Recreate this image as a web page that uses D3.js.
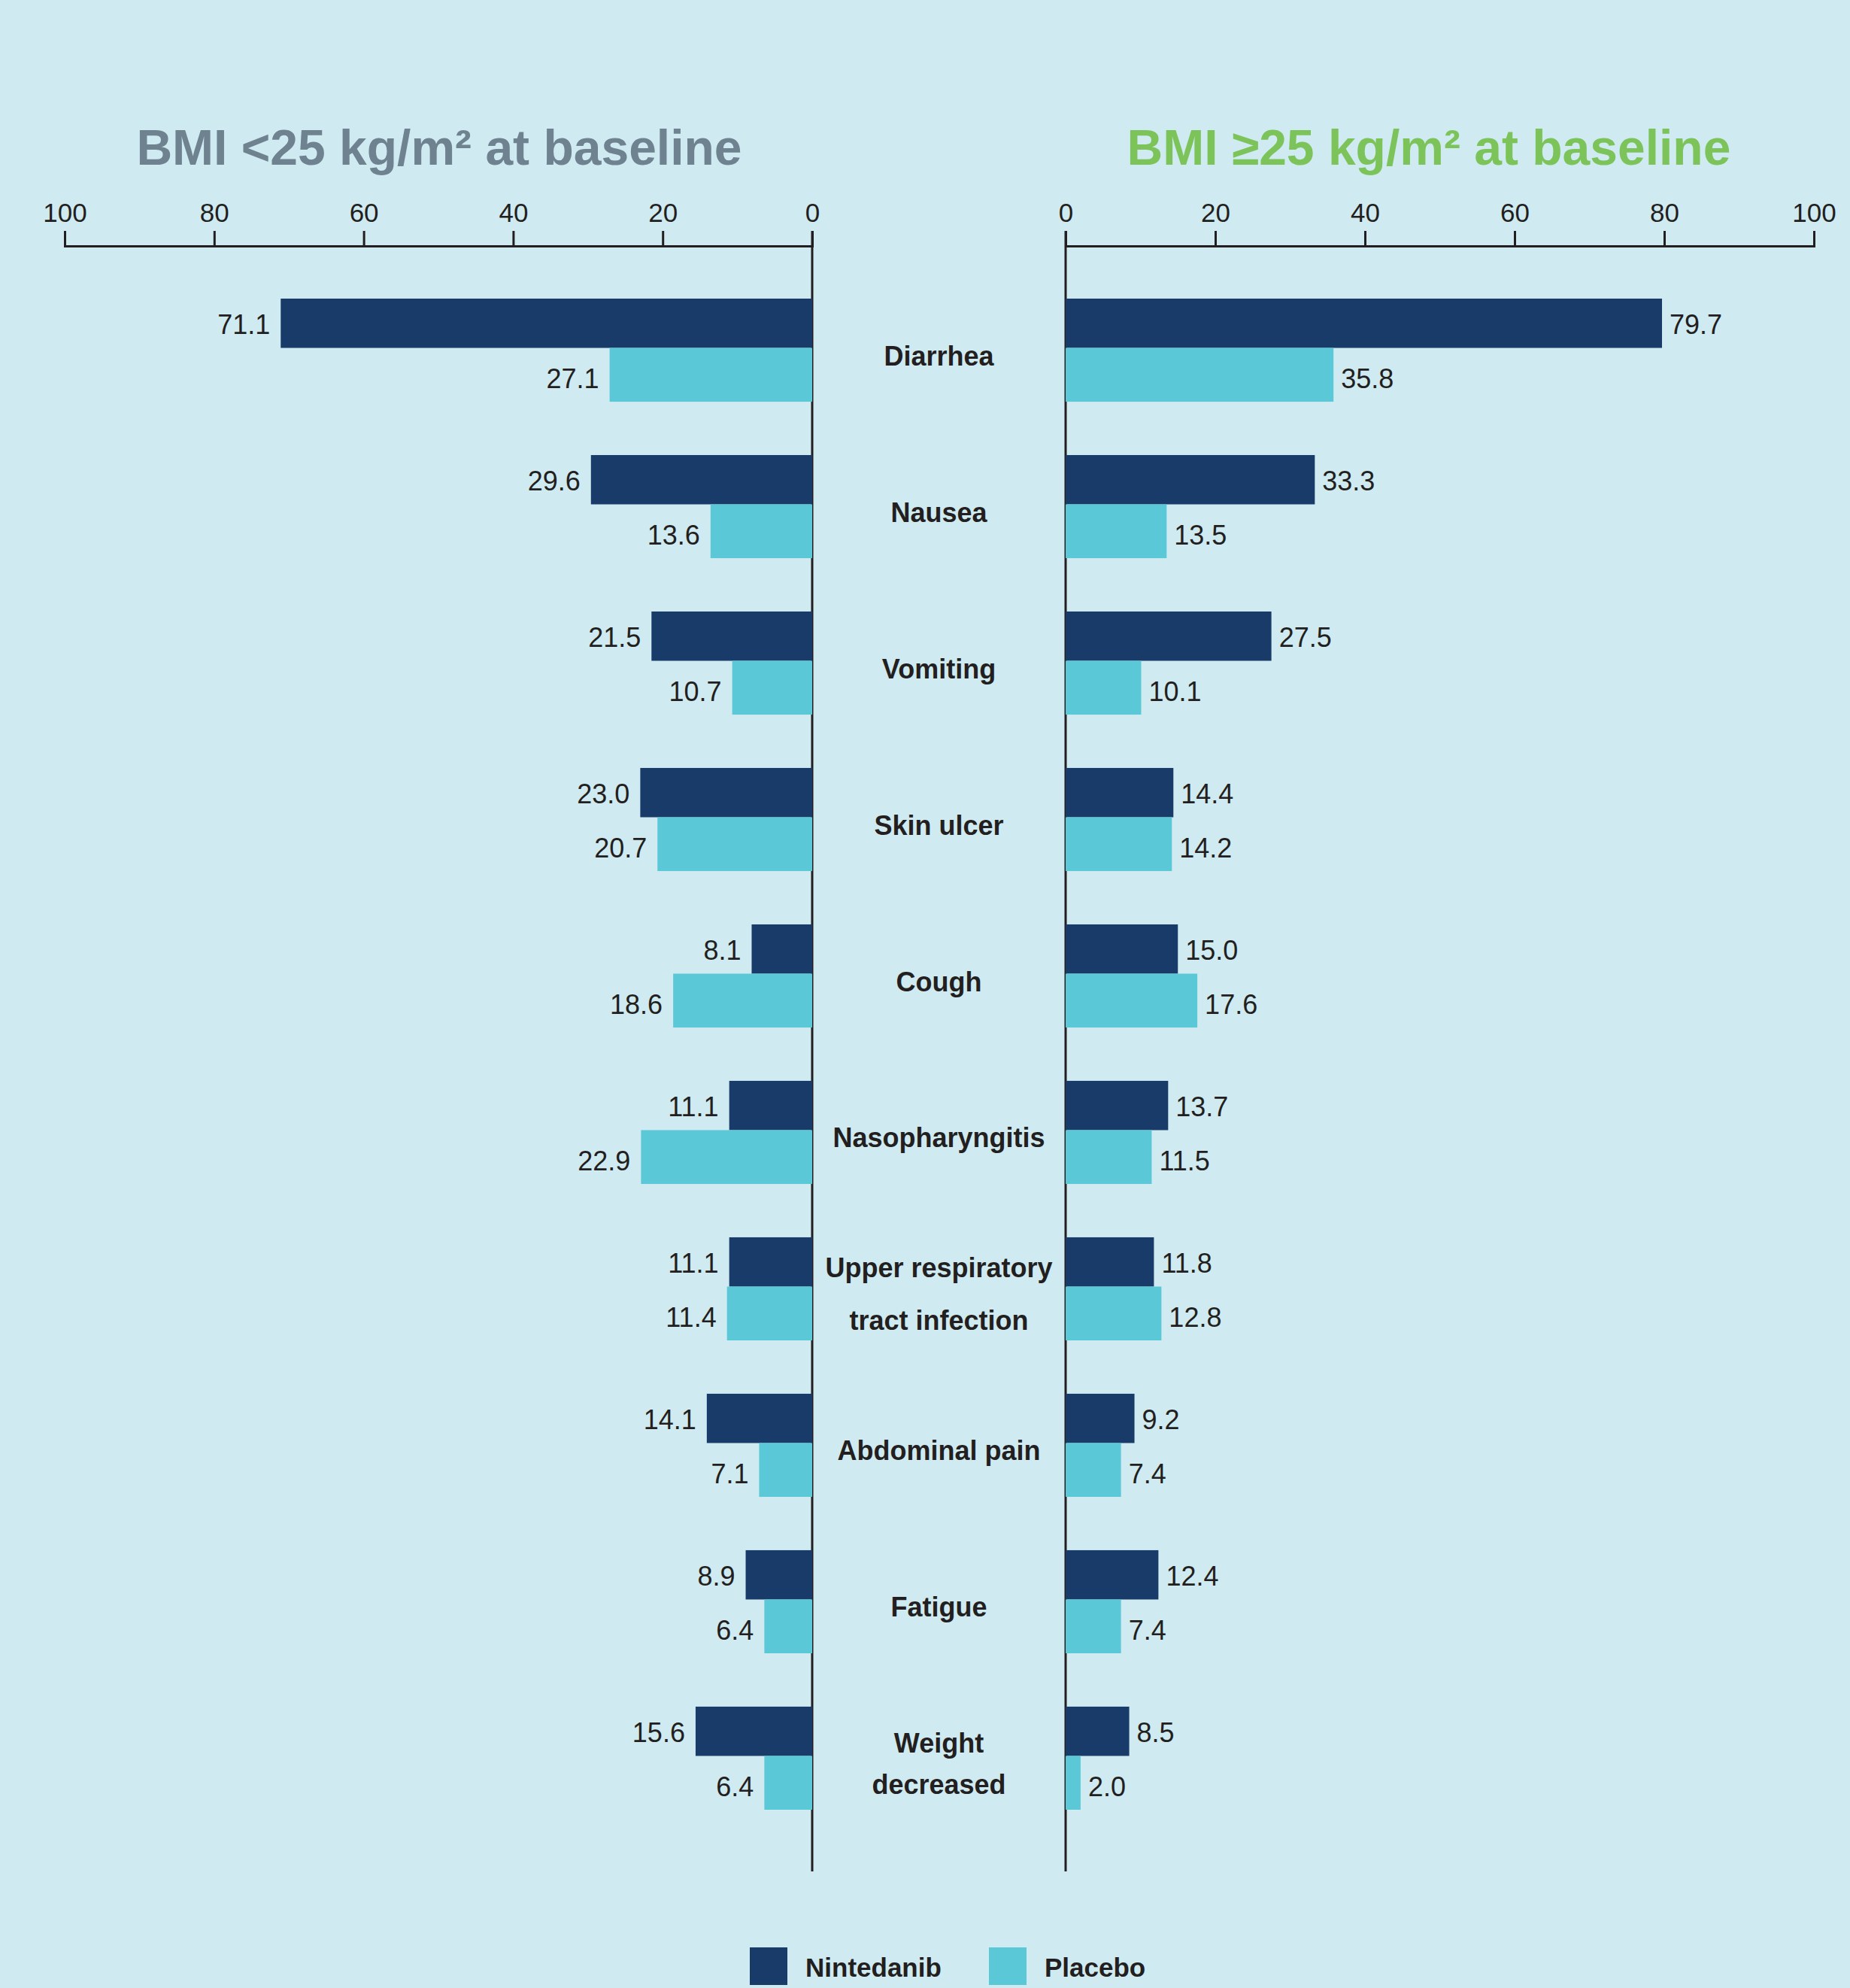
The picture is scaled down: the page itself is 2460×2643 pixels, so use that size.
<!DOCTYPE html>
<html>
<head>
<meta charset="utf-8">
<script src="https://cdn.jsdelivr.net/npm/d3@7/dist/d3.min.js"></script>
<style>
  html, body { margin: 0; padding: 0; background: #cfebf1; }
  svg { display: block; font-family: "Liberation Sans", Arial, Helvetica, sans-serif; }
  .tick line { stroke: #231f20; stroke-width: 3; }
  .domain { stroke: #231f20; stroke-width: 3; }
  .tick text { fill: #231f20; font-size: 35px; }
</style>
</head>
<body>
<div class="Chart"></div>
<script>
// data
const categories = ["Diarrhea", "Nausea", "Vomiting", "Skin ulcer", "Cough", "Nasopharyngitis",
  "Upper respiratory tract infection", "Abdominal pain", "Fatigue", "Weight decreased"];
const categoryLines = [["Diarrhea"], ["Nausea"], ["Vomiting"], ["Skin ulcer"], ["Cough"], ["Nasopharyngitis"],
  ["Upper respiratory", "tract infection"], ["Abdominal pain"], ["Fatigue"], ["Weight", "decreased"]];
const lowNintedanib = [71.1, 29.6, 21.5, 23.0, 8.1, 11.1, 11.1, 14.1, 8.9, 15.6];
const lowPlacebo = [27.1, 13.6, 10.7, 20.7, 18.6, 22.9, 11.4, 7.1, 6.4, 6.4];
const highNintedanib = [79.7, 33.3, 27.5, 14.4, 15.0, 13.7, 11.8, 9.2, 12.4, 8.5];
const highPlacebo = [35.8, 13.5, 10.1, 14.2, 17.6, 11.5, 12.8, 7.4, 7.4, 2.0];
const tickValues = [0, 20, 40, 60, 80, 100];
const seriesNames = ["Nintedanib", "Placebo"];
const titles = ["BMI <25 kg/m² at baseline", "BMI ≥25 kg/m² at baseline"];

const color = { nin: "#193b6a", pla: "#5bc8d8", text: "#231f20", bg: "#cfebf1", left: "#6e828f", right: "#7cc35a" };

const width = 2460, height = 2643;
const axisY = 327, lineBottom = 2488;

const svg = d3.select(".Chart").append("svg")
  .attr("width", width)
  .attr("height", height);

svg.append("rect").attr("width", width).attr("height", height).attr("fill", color.bg);

const xLeft = d3.scaleLinear().domain([0, 100]).range([1080, 86]);
const xRight = d3.scaleLinear().domain([0, 100]).range([1417, 2412]);

const y = d3.scaleBand()
  .domain(categories)
  .range([397, 2406])
  .paddingInner(0.341)
  .paddingOuter(0);

const bw = y.bandwidth();
const ninH = bw * 0.478;
const plaH = bw - ninH;

function drawAxis(x, vx) {
  const g = svg.append("g").attr("transform", `translate(0,${axisY})`)
    .call(d3.axisTop(x).tickValues(tickValues).tickSize(20).tickPadding(12).tickFormat(d3.format("d")));
  g.selectAll(".tick text").attr("font-family", "inherit");
  svg.append("line")
    .attr("x1", vx).attr("x2", vx)
    .attr("y1", axisY - 20).attr("y2", lineBottom)
    .attr("stroke", color.text).attr("stroke-width", 3);
}

drawAxis(xLeft, xLeft(0));
drawAxis(xRight, xRight(0));

function drawSide(x, nin, pla, side) {
  const g = svg.append("g");
  const rows = categories.map((c, i) => ({ c, nin: nin[i], pla: pla[i] }));

  g.selectAll(".bar-nin").data(rows).join("rect")
    .attr("class", "bar-nin")
    .attr("x", d => Math.min(x(0), x(d.nin)))
    .attr("y", d => y(d.c))
    .attr("width", d => Math.abs(x(d.nin) - x(0)))
    .attr("height", ninH)
    .attr("fill", color.nin);

  g.selectAll(".bar-pla").data(rows).join("rect")
    .attr("class", "bar-pla")
    .attr("x", d => Math.min(x(0), x(d.pla)))
    .attr("y", d => y(d.c) + ninH)
    .attr("width", d => Math.abs(x(d.pla) - x(0)))
    .attr("height", plaH)
    .attr("fill", color.pla);

  const off = side === "left" ? -14 : 10;
  const anchor = side === "left" ? "end" : "start";

  g.selectAll(".lab-nin").data(rows).join("text")
    .attr("x", d => x(d.nin) + off)
    .attr("y", d => y(d.c) + ninH / 2 + 14)
    .attr("text-anchor", anchor)
    .attr("font-size", 36)
    .attr("fill", color.text)
    .text(d => d.nin.toFixed(1));

  g.selectAll(".lab-pla").data(rows).join("text")
    .attr("x", d => x(d.pla) + off)
    .attr("y", d => y(d.c) + ninH + plaH / 2 + 18)
    .attr("text-anchor", anchor)
    .attr("font-size", 36)
    .attr("fill", color.text)
    .text(d => d.pla.toFixed(1));
}

drawSide(xLeft, lowNintedanib, lowPlacebo, "left");
drawSide(xRight, highNintedanib, highPlacebo, "right");

// category labels in the gap between the two panels
const midX = (xLeft(0) + xRight(0)) / 2;
const lineGap = { "Upper respiratory tract infection": 70, "Weight decreased": 55 };
categories.forEach((c, i) => {
  const lines = categoryLines[i];
  const cy = y(c) + bw / 2;
  const gap = lineGap[c] || 0;
  const t = svg.append("text")
    .attr("text-anchor", "middle")
    .attr("font-size", 36)
    .attr("font-weight", "bold")
    .attr("fill", color.text);
  lines.forEach((l, j) => {
    const ly = cy + 20 + (j - (lines.length - 1) / 2) * gap;
    t.append("tspan").attr("x", midX).attr("y", ly).text(l);
  });
});

// titles
svg.append("text")
  .attr("x", 584).attr("y", 219)
  .attr("text-anchor", "middle")
  .attr("font-size", 66).attr("font-weight", "bold")
  .attr("fill", color.left)
  .text(titles[0]);

svg.append("text")
  .attr("x", 1900).attr("y", 219)
  .attr("text-anchor", "middle")
  .attr("font-size", 66).attr("font-weight", "bold")
  .attr("fill", color.right)
  .text(titles[1]);

// legend
const legend = svg.append("g");
const legendX = [997, 1315];
const legendColors = [color.nin, color.pla];
seriesNames.forEach((s, i) => {
  legend.append("rect")
    .attr("x", legendX[i]).attr("y", 2589)
    .attr("width", 50).attr("height", 50)
    .attr("fill", legendColors[i]);
  legend.append("text")
    .attr("x", legendX[i] + 74).attr("y", 2628)
    .attr("font-size", 35).attr("font-weight", "bold")
    .attr("fill", color.text)
    .text(s);
});
</script>
</body>
</html>
